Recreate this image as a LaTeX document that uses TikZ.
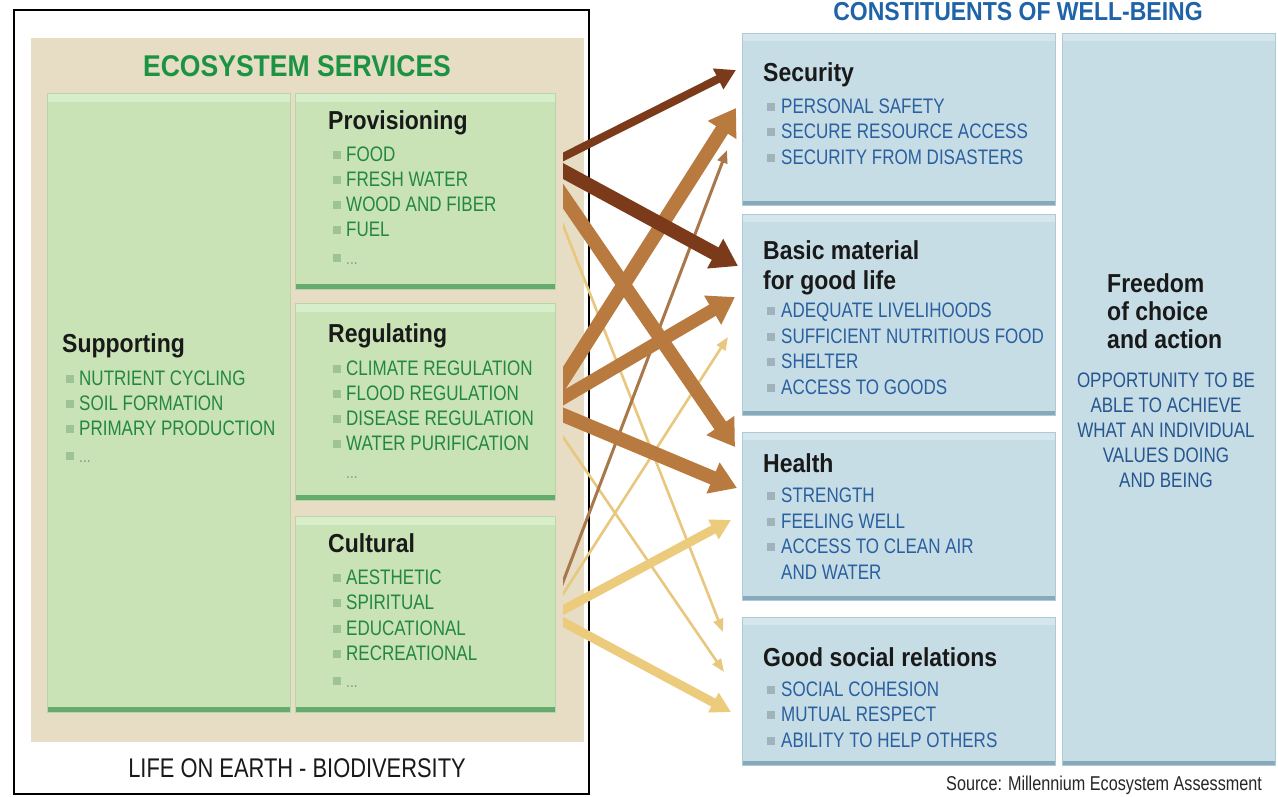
\documentclass[tikz,border=0pt]{standalone}
\usepackage{fontspec}
\setmainfont{Liberation Sans}[FakeStretch=0.81]
\newfontfamily\tfont{Liberation Sans}[FakeStretch=0.885]
\usetikzlibrary{arrows.meta}
\definecolor{beige}{HTML}{E6DDC4}
\definecolor{gfill}{HTML}{C9E3B6}
\definecolor{gtop}{HTML}{D8EDCA}
\definecolor{gdark}{HTML}{66AB6E}
\definecolor{gside}{HTML}{B7D8A6}
\definecolor{gtext}{HTML}{23883E}
\definecolor{gtitle}{HTML}{1B9343}
\definecolor{gbulc}{HTML}{9EC394}
\definecolor{bfill}{HTML}{C6DDE5}
\definecolor{btop}{HTML}{D5E7ED}
\definecolor{bdark}{HTML}{86AABC}
\definecolor{bside}{HTML}{AECAD6}
\definecolor{btext}{HTML}{2A5FA0}
\definecolor{btitle}{HTML}{1F63A8}
\definecolor{bbulc}{HTML}{9FB3BA}
\definecolor{dotc}{HTML}{8A9A86}
\definecolor{dkbrown}{HTML}{7B3B1B}
\definecolor{mdbrown}{HTML}{B87A3E}
\definecolor{thbrown}{HTML}{A8774A}
\definecolor{ylw}{HTML}{EDCB7C}
\definecolor{ylwthin}{HTML}{E8C77E}
\newcommand\gbul{\textcolor{gbulc}{\rule[2.5pt]{8pt}{8pt}}\hspace{5pt}}
\newcommand\bbul{\textcolor{bbulc}{\rule[2.5pt]{8pt}{8pt}}\hspace{6pt}}
\newcommand\gdots{\textcolor{dotc}{\fontsize{17}{17}\selectfont...}}
\tikzset{
  gbox/.style={rectangle, anchor=north west, inner sep=0pt, fill=gfill, draw=gside, line width=1.2pt,
    path picture={
      \fill[gtop] (path picture bounding box.north west) rectangle ([yshift=-8pt]path picture bounding box.north east);
      \fill[gdark] (path picture bounding box.south west) rectangle ([yshift=6pt]path picture bounding box.south east);
    }},
  bbox/.style={rectangle, anchor=north west, inner sep=0pt, fill=bfill, draw=bside, line width=1.2pt,
    path picture={
      \fill[btop] (path picture bounding box.north west) rectangle ([yshift=-7pt]path picture bounding box.north east);
      \fill[bdark] (path picture bounding box.south west) rectangle ([yshift=5pt]path picture bounding box.south east);
    }},
  ttl/.style={anchor=base west, inner sep=0pt, font=\tfont\fontsize{26}{30}\selectfont\bfseries, text=black!90},
  gitm/.style={anchor=base west, inner sep=0pt, font=\fontsize{21}{25}\selectfont, text=gtext},
  bitm/.style={anchor=base west, inner sep=0pt, font=\fontsize{21}{25}\selectfont, text=btext},
  arwbig/.style={line width=14pt, -{Triangle[length=26pt,width=32pt]}, shorten <=-10pt},
  arwmid/.style={line width=9pt, -{Triangle[length=20pt,width=21pt]}, shorten <=-10pt},
  arwsm/.style={line width=8pt, -{Triangle[length=20pt,width=22pt]}, shorten <=-10pt},
  arwthin/.style={line width=2.6pt, -{Triangle[length=13pt,width=10pt]}, shorten <=-10pt},
}
\begin{document}
\begin{tikzpicture}[x=1pt,y=-1pt]
\useasboundingbox (0,0) rectangle (1278,796);
\clip (0,0) rectangle (1278,796);
\fill[white] (0,0) rectangle (1278,796);
% left panel
\node[rectangle, anchor=north west, inner sep=0pt, fill=beige, minimum width=553pt, minimum height=704pt] (bg) at (31,38) {};
\node[rectangle, anchor=north west, inner sep=0pt, draw=black, line width=2pt, minimum width=575pt, minimum height=784pt] (frm) at (13,9) {};
\node[anchor=base, inner sep=0pt, font=\tfont\fontsize{30}{34}\selectfont\bfseries, text=gtitle] (es) at (297,76) {ECOSYSTEM SERVICES};
\node[anchor=base, inner sep=0pt, font=\fontsize{27}{30}\selectfont, text=black!90] (life) at (297,777) {LIFE ON EARTH - BIODIVERSITY};
\node[gbox, minimum width=243pt, minimum height=619pt] (sup) at (47,93) {};
\node[gbox, minimum width=260pt, minimum height=196pt] (prov) at (295,93) {};
\node[gbox, minimum width=260pt, minimum height=197pt] (reg) at (295,303) {};
\node[gbox, minimum width=260pt, minimum height=196pt] (cult) at (295,516) {};
% supporting
\node[ttl] (supt) at (62,352) {Supporting};
\foreach \t [count=\i] in {NUTRIENT CYCLING, SOIL FORMATION, PRIMARY PRODUCTION}
  \node[gitm] (sup-\i) at (66,{360+25*\i}) {\gbul\t};
\node[gitm] (sup-4) at (66,462) {\gbul\gdots};
% provisioning
\node[ttl] (provt) at (328,129) {Provisioning};
\foreach \t [count=\i] in {FOOD, FRESH WATER, WOOD AND FIBER, FUEL}
  \node[gitm] (prov-\i) at (333,{135.7+25.3*\i}) {\gbul\t};
\node[gitm] (prov-5) at (333,264) {\gbul\gdots};
% regulating
\node[ttl] (regt) at (328,342) {Regulating};
\foreach \t [count=\i] in {CLIMATE REGULATION, FLOOD REGULATION, DISEASE REGULATION, WATER PURIFICATION}
  \node[gitm] (reg-\i) at (333,{350+25*\i}) {\gbul\t};
\node[gitm] (reg-5) at (346,478) {\gdots};
% cultural
\node[ttl] (cultt) at (328,552) {Cultural};
\foreach \t [count=\i] in {AESTHETIC, SPIRITUAL, EDUCATIONAL, RECREATIONAL}
  \node[gitm] (cult-\i) at (333,{558.5+25.6*\i}) {\gbul\t};
\node[gitm] (cult-5) at (333,687) {\gbul\gdots};
% right panel
\node[anchor=base, inner sep=0pt, font=\tfont\fontsize{26}{30}\selectfont\bfseries, text=btitle] (cw) at (1018,20) {CONSTITUENTS OF WELL-BEING};
\node[bbox, minimum width=313pt, minimum height=172pt] (sec) at (742,33) {};
\node[bbox, minimum width=313pt, minimum height=201pt] (bas) at (742,214) {};
\node[bbox, minimum width=313pt, minimum height=168pt] (hea) at (742,432) {};
\node[bbox, minimum width=313pt, minimum height=148pt] (soc) at (742,617) {};
\node[bbox, minimum width=213pt, minimum height=732pt] (fre) at (1062,33) {};
% security
\node[ttl] (sect) at (763,81) {Security};
\foreach \t [count=\i] in {PERSONAL SAFETY, SECURE RESOURCE ACCESS, SECURITY FROM DISASTERS}
  \node[bitm] (sec-\i) at (767,{87.5+25.5*\i}) {\bbul\t};
% basic material
\node[ttl] (bast1) at (763,259) {Basic material};
\node[ttl] (bast2) at (763,289) {for good life};
\foreach \t [count=\i] in {ADEQUATE LIVELIHOODS, SUFFICIENT NUTRITIOUS FOOD, SHELTER, ACCESS TO GOODS}
  \node[bitm] (bas-\i) at (767,{292.5+25.4*\i}) {\bbul\t};
% health
\node[ttl] (heat) at (763,472) {Health};
\foreach \t [count=\i] in {STRENGTH, FEELING WELL, ACCESS TO CLEAN AIR}
  \node[bitm] (hea-\i) at (767,{477.5+25.4*\i}) {\bbul\t};
\node[bitm] (hea-4) at (781,579) {AND WATER};
% good social relations
\node[ttl] (soct) at (763,666) {Good social relations};
\foreach \t [count=\i] in {SOCIAL COHESION, MUTUAL RESPECT, ABILITY TO HELP OTHERS}
  \node[bitm] (soc-\i) at (767,{670.5+25.5*\i}) {\bbul\t};
% freedom
\node[ttl] (fret1) at (1107,292) {Freedom};
\node[ttl] (fret2) at (1107,320) {of choice};
\node[ttl] (fret3) at (1107,348) {and action};
\foreach \t [count=\i] in {OPPORTUNITY TO BE, ABLE TO ACHIEVE, WHAT AN INDIVIDUAL, VALUES DOING, AND BEING}
  \node[anchor=base, inner sep=0pt, font=\fontsize{21}{25}\selectfont, text=btext!90!black] (fre-\i) at (1166,{362+25*\i}) {\t};
% source
\node[anchor=base west, inner sep=0pt, font=\fontsize{20}{24}\selectfont, text=black!85] (src) at (946,790) {Source: Millennium Ecosystem Assessment};
% arrows
\coordinate (s1) at (563,157); \coordinate (e1) at (736,70);
\coordinate (s2) at (563,171); \coordinate (e2) at (738,266);
\coordinate (s3) at (563,196); \coordinate (e3) at (735,447);
\coordinate (s4) at (563,380); \coordinate (e4) at (736,108);
\coordinate (s5) at (563,398); \coordinate (e5) at (735,297);
\coordinate (s6) at (563,415); \coordinate (e6) at (737,488);
\coordinate (s7) at (563,582); \coordinate (e7) at (727,150);
\coordinate (s8) at (563,594); \coordinate (e8) at (728,337);
\coordinate (s9) at (563,610); \coordinate (e9) at (731,520);
\coordinate (s10) at (563,622); \coordinate (e10) at (731,712);
\coordinate (s11) at (563,225); \coordinate (e11) at (723,632);
\coordinate (s12) at (563,437); \coordinate (e12) at (724,672);
\begin{scope}
\clip (563,0) rectangle (760,796);
\draw[arwthin, ylwthin] (s11) -- (e11);
\draw[arwthin, ylwthin] (s12) -- (e12);
\draw[arwthin, ylwthin] (s8) -- (e8);
\draw[arwmid, ylw] (s9) -- (e9);
\draw[arwmid, ylw] (s10) -- (e10);
\draw[arwthin, thbrown, line width=3pt] (s7) -- (e7);
\draw[arwbig, mdbrown] (s4) -- (e4);
\draw[arwbig, mdbrown, line width=13pt] (s5) -- (e5);
\draw[arwbig, mdbrown] (s6) -- (e6);
\draw[arwbig, mdbrown] (s3) -- (e3);
\draw[arwsm, dkbrown] (s1) -- (e1);
\draw[arwbig, dkbrown] (s2) -- (e2);
\end{scope}
\end{tikzpicture}
\end{document}
